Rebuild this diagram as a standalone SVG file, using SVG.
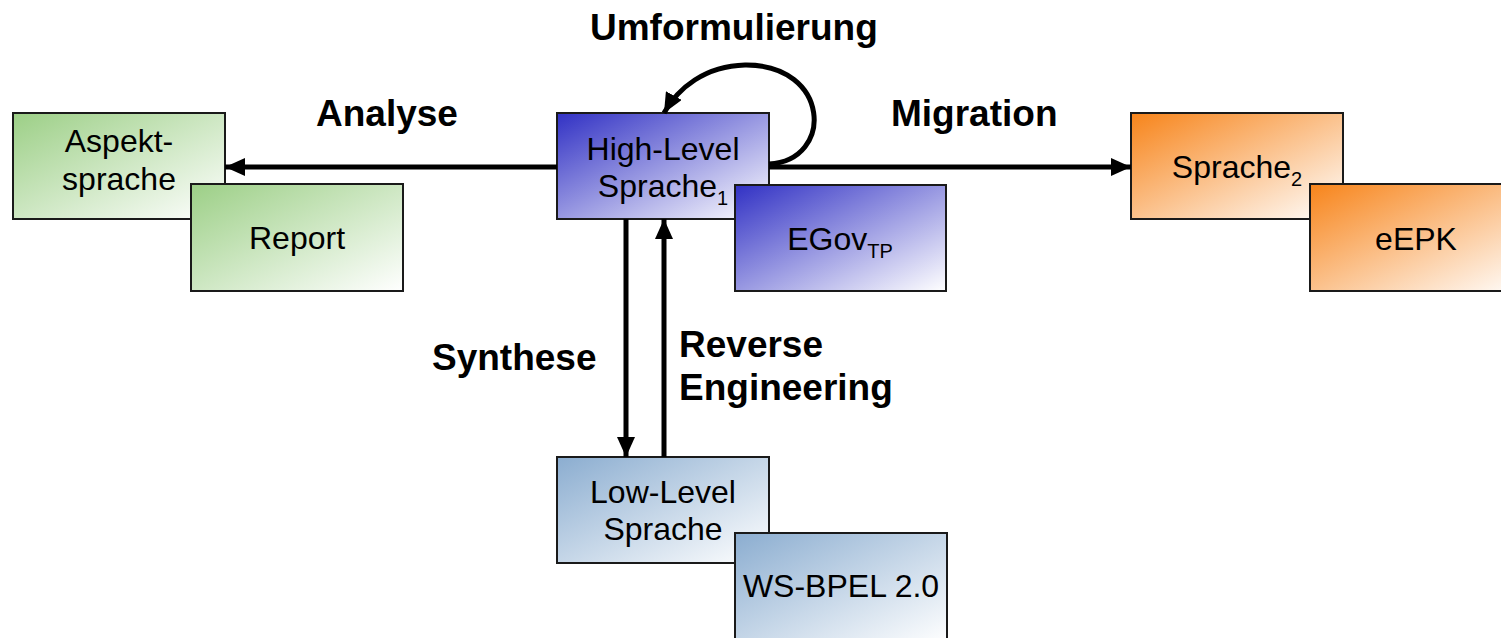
<svg xmlns="http://www.w3.org/2000/svg" width="1501" height="638" viewBox="0 0 1501 638">
<style>
.box{stroke:#1a1a1a;stroke-width:2}
.nt{font-family:"Liberation Sans",Arial,sans-serif;font-size:32px;fill:#000;text-anchor:middle}
.lb{font-family:"Liberation Sans",Arial,sans-serif;font-size:37px;font-weight:bold;fill:#000}
.sub{font-size:20px}
.con{stroke:#000;stroke-width:5;fill:none}
</style>
<defs>
<linearGradient id="gGreen" x1="0" y1="0" x2="1" y2="1"><stop offset="0" stop-color="#9ccf86"/><stop offset="1" stop-color="#ffffff"/></linearGradient>
<linearGradient id="gBlue" x1="0" y1="0" x2="1" y2="1"><stop offset="0" stop-color="#3131c4"/><stop offset="1" stop-color="#ffffff"/></linearGradient>
<linearGradient id="gOrange" x1="0" y1="0" x2="1" y2="1"><stop offset="0" stop-color="#f7841a"/><stop offset="1" stop-color="#ffffff"/></linearGradient>
<linearGradient id="gSteel" x1="0" y1="0" x2="1" y2="1"><stop offset="0" stop-color="#8badd0"/><stop offset="1" stop-color="#ffffff"/></linearGradient>
<marker id="ah" markerUnits="userSpaceOnUse" markerWidth="22" markerHeight="18" refX="20" refY="9" orient="auto"><path d="M0,0 L20,9 L0,18 Z" fill="#000"/></marker>
</defs>

<g id="aspekt"><rect class="box" x="13" y="113" width="212" height="106" fill="url(#gGreen)"/><text class="nt" x="119" y="152">Aspekt-</text><text class="nt" x="119" y="190">sprache</text></g>
<g id="report"><rect class="box" x="191" y="184" width="212" height="107" fill="url(#gGreen)"/><text class="nt" x="297" y="249">Report</text></g>

<g id="highlevel"><rect class="box" x="557" y="113" width="212" height="106" fill="url(#gBlue)"/><text class="nt" x="663" y="160">High-Level</text><text class="nt" x="663" y="197">Sprache<tspan class="sub" dy="8">1</tspan></text></g>
<g id="egov"><rect class="box" x="735" y="185" width="211" height="106" fill="url(#gBlue)"/><text class="nt" x="840" y="250">EGov<tspan class="sub" dy="8">TP</tspan></text></g>

<g id="sprache2"><rect class="box" x="1131" y="113" width="212" height="106" fill="url(#gOrange)"/><text class="nt" x="1237" y="178">Sprache<tspan class="sub" dy="8">2</tspan></text></g>
<g id="eepk"><rect class="box" x="1310" y="184" width="220" height="107" fill="url(#gOrange)"/><text class="nt" x="1416" y="250">eEPK</text></g>

<g id="lowlevel"><rect class="box" x="557" y="457" width="212" height="106" fill="url(#gSteel)"/><text class="nt" x="663" y="503">Low-Level</text><text class="nt" x="663" y="540">Sprache</text></g>
<g id="wsbpel"><rect class="box" x="735" y="533" width="212" height="110" fill="url(#gSteel)"/><text class="nt" x="841" y="597">WS-BPEL 2.0</text></g>

<g id="connectors">
<line class="con" x1="557" y1="167" x2="225" y2="167" marker-end="url(#ah)"/>
<line class="con" x1="769" y1="167" x2="1131" y2="167" marker-end="url(#ah)"/>
<line class="con" x1="626" y1="219" x2="626" y2="457" marker-end="url(#ah)"/>
<line class="con" x1="664" y1="457" x2="664" y2="219" marker-end="url(#ah)"/>
<path class="con" d="M769,164 C835,160 830,64 745,65 C705,66 678,88 664,113" marker-end="url(#ah)"/>
</g>

<g id="labels">
<text class="lb" x="590" y="40">Umformulierung</text>
<text class="lb" x="316" y="126">Analyse</text>
<text class="lb" x="891" y="126">Migration</text>
<text class="lb" x="432" y="370">Synthese</text>
<text class="lb" x="679" y="357">Reverse</text>
<text class="lb" x="679" y="400">Engineering</text>
</g>
</svg>
